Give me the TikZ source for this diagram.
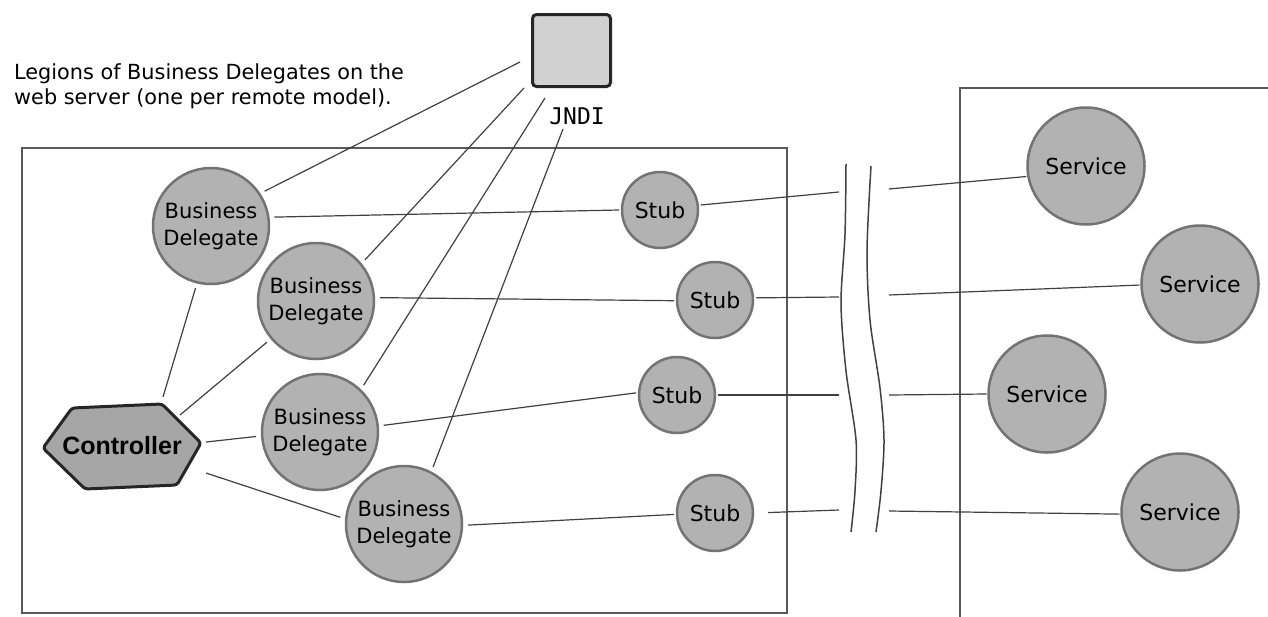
\documentclass[tikz,border=0pt]{standalone}
\usepackage{fontspec}
\setmainfont{DejaVu Sans}
\newfontfamily\ctrlfont{Liberation Sans}
\newfontfamily\jfont{DejaVu Sans Mono}
\usetikzlibrary{calc}
\begin{document}
\begin{tikzpicture}[x=1pt,y=-1pt,
  conn/.style={draw=black!75, line width=1.2pt},
  frame/.style={draw=black!65, line width=1.8pt},
  ball/.style={circle, fill=black!30, draw=black!55, line width=2.5pt, inner sep=0pt},
  bdel/.style={ball, minimum size=116pt, outer sep=6pt, align=center, font=\fontsize{21}{27}\selectfont},
  stubn/.style={ball, minimum size=76pt, outer sep=3pt, font=\fontsize{22}{26}\selectfont},
  svc/.style={ball, minimum size=117pt, outer sep=2pt, font=\fontsize{22}{26}\selectfont},
  hexa/.style={fill=black!35, draw=black!85, line width=3pt, rounded corners=3pt},
  jbox/.style={rectangle, rounded corners=4pt, fill=black!18, draw=black!85, line width=3pt, minimum width=78pt, minimum height=72pt}
]
\useasboundingbox (0,0) rectangle (1268,616);
% frames
\draw[frame] (22,148) rectangle (787,613);
\draw[frame] (1272,88) -- (960,88) -- (960,620);
% legend
\node[anchor=north west, inner sep=0pt, align=left, font=\fontsize{20.8}{25}\selectfont] (legend) at (14,63)
  {Legions of Business Delegates on the\\web server (one per remote model).};
% JNDI
\node[jbox] (jndi) at (571.5,50.5) {};
\node[font=\jfont\fontsize{23}{26}\selectfont] (jlabel) at (577,116) {JNDI};
% controller
\draw[hexa] (43,448) -- (72,408) -- (162,404) -- (201,443) -- (177,485) -- (85,489) -- cycle;
\node[font=\ctrlfont\bfseries\fontsize{25}{30}\selectfont, inner sep=0pt] (controller) at (122,446) {Controller};
% business delegates
\node[bdel] (bd1) at (211,226) {Business\\Delegate};
\node[bdel] (bd2) at (316,301) {Business\\Delegate};
\node[bdel] (bd3) at (320,432) {Business\\Delegate};
\node[bdel] (bd4) at (404,524) {Business\\Delegate};
% stubs
\node[stubn] (stub1) at (660,210) {Stub};
\node[stubn] (stub2) at (715,300) {Stub};
\node[stubn] (stub3) at (677,395) {Stub};
\node[stubn] (stub4) at (715,513) {Stub};
% services
\node[svc] (svc1) at (1086,166) {Service};
\node[svc] (svc2) at (1200,284) {Service};
\node[svc] (svc3) at (1047,394) {Service};
\node[svc] (svc4) at (1180,512) {Service};
% free ends
\coordinate (j1) at (520,62);
\coordinate (j2) at (524,88);
\coordinate (j3) at (545,98);
\coordinate (j4) at (563,129);
\coordinate (bl1) at (839,192); \coordinate (br1) at (889,189);
\coordinate (bl2) at (839,297); \coordinate (br2) at (889,295);
\coordinate (bl3) at (839,395); \coordinate (br3) at (889,395);
\coordinate (bl4) at (839,510); \coordinate (br4) at (889,511);
% network break
\draw[conn, line width=1.5pt] plot[smooth] coordinates {(846,164) (845,234) (841,303) (846,371) (856,440) (855,491) (851,532)};
\draw[conn, line width=1.5pt] plot[smooth] coordinates {(871,166) (867,251) (870,320) (880,388) (884,440) (881,491) (876,532)};
% JNDI connectors
\draw[conn] (j1) -- (bd1.33);
\draw[conn] (j2) -- (bd2.40);
\draw[conn] (j3) -- (bd3.47);
\draw[conn] (j4) -- (bd4.63);
% controller connectors
\draw[conn] ($(controller)+(41,-49)$) -- (bd1.256);
\draw[conn] ($(controller)+(58,-31)$) -- (bd2.220);
\draw[conn] ($(controller)+(84,-4)$) -- (bd3.184);
\draw[conn] ($(controller)+(84,27)$) -- (bd4.174);
% delegate to stub
\draw[conn] (bd1.8) -- (stub1.180);
\draw[conn] (bd2.3) -- (stub2.181);
\draw[conn] (bd3.6) -- (stub3.177);
\draw[conn] (bd4.359) -- (stub4.182);
% stub to service
\draw[conn] (stub1.7) -- (bl1);
\draw[conn] (br1) -- (svc1.190);
\draw[conn] (stub2.3) -- (bl2);
\draw[conn] (br2) -- (svc2.181);
\draw[conn] (stub3.0) -- (bl3);
\draw[conn] (br3) -- (svc3.180);
\draw[conn, shorten <=12pt] (stub4.0) -- (bl4);
\draw[conn] (br4) -- (svc4.182);
\end{tikzpicture}
\end{document}
